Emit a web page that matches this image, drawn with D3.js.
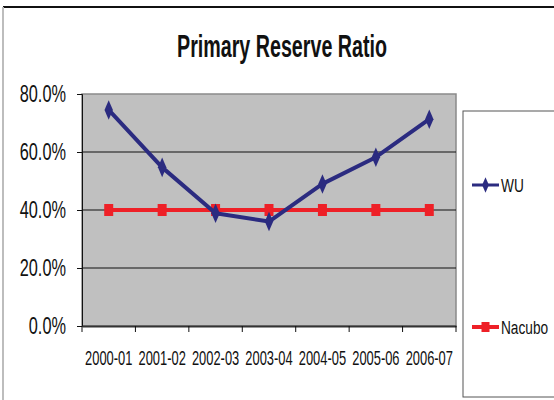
<!DOCTYPE html>
<html>
<head>
<meta charset="utf-8">
<script src="https://cdn.jsdelivr.net/npm/d3@7"></script>
<style>
  html, body { margin: 0; padding: 0; background: #fff; }
  svg { display: block; font-family: "Liberation Sans", Arial, sans-serif; }
</style>
</head>
<body>
<svg id="chart" width="554" height="400"></svg>
<script>
// data
const years = ["2000-01", "2001-02", "2002-03", "2003-04", "2004-05", "2005-06", "2006-07"];
const wuValues = [0.745, 0.547, 0.389, 0.36, 0.49, 0.582, 0.713];
const nacuboValues = [0.40, 0.40, 0.40, 0.40, 0.40, 0.40, 0.40];
const yTicks = [0, 0.2, 0.4, 0.6, 0.8];

// layout
const plot = {left: 82, right: 456, top: 94, bottom: 326};

const svg = d3.select('#chart');

// outer frame
svg.append('line')
    .attr('x1', 3).attr('x2', 554).attr('y1', 7).attr('y2', 7)
    .attr('stroke', '#111').attr('stroke-width', 2);
svg.append('line')
    .attr('x1', 3).attr('x2', 3).attr('y1', 7).attr('y2', 400)
    .attr('stroke', '#bdbdbd').attr('stroke-width', 2);

// the original text is horizontally compressed
function squeezedText(g, x, y, txt, size, anchor, sx, weight) {
    return g.append('text')
        .attr('transform', 'translate(' + x + ',' + y + ') scale(' + sx + ',1)')
        .attr('text-anchor', anchor)
        .attr('font-size', size)
        .attr('font-weight', weight || 'normal')
        .attr('fill', '#111')
        .text(txt);
}

// title
squeezedText(svg, 282, 57, 'Primary Reserve Ratio', 31, 'middle', 0.635, 'bold');

// scales
const x = d3.scaleBand()
    .domain(years)
    .range([plot.left, plot.right]);
const y = d3.scaleLinear()
    .domain([0, 0.8])
    .range([plot.bottom, plot.top]);

// plot background
svg.append('rect')
    .attr('x', plot.left).attr('y', plot.top)
    .attr('width', plot.right - plot.left).attr('height', plot.bottom - plot.top)
    .attr('fill', '#c0c0c0')
    .attr('stroke', '#8a8a8a').attr('stroke-width', 1.5);

// gridlines
svg.selectAll('.grid')
    .data(yTicks.filter(d => d > 0 && d < 0.8))
    .enter()
    .append('line')
    .attr('x1', plot.left).attr('x2', plot.right)
    .attr('y1', d => y(d)).attr('y2', d => y(d))
    .attr('stroke', '#111').attr('stroke-width', 1.2);

// y axis
const yAxis = svg.append('g')
    .attr('transform', 'translate(' + plot.left + ',0)')
    .call(d3.axisLeft(y).tickValues(yTicks).tickSize(5).tickFormat(''));
yAxis.select('.domain').attr('stroke', '#111');
yAxis.selectAll('.tick line').attr('stroke', '#111');
yTicks.forEach(function(t) {
    squeezedText(svg, 66, y(t) + 8, d3.format('.1%')(t), 23, 'end', 0.71);
});

// x axis
const xAxis = svg.append('g')
    .attr('transform', 'translate(0,' + plot.bottom + ')')
    .call(d3.axisBottom(x).tickSize(0).tickFormat(''));
xAxis.select('.domain').attr('stroke', '#333').attr('stroke-width', 2);
svg.selectAll('.xtick')
    .data(years.concat(['end']))
    .enter()
    .append('line')
    .attr('x1', (d, i) => plot.left + i * x.step())
    .attr('x2', (d, i) => plot.left + i * x.step())
    .attr('y1', plot.bottom).attr('y2', plot.bottom + 6)
    .attr('stroke', '#111');
years.forEach(function(yr) {
    squeezedText(svg, x(yr) + x.bandwidth() / 2, 365, yr, 20, 'middle', 0.645);
});

const cx = d => x(d.year) + x.bandwidth() / 2;
const line = d3.line().x(cx).y(d => y(d.v));

// Nacubo series
const nacubo = years.map((yr, i) => ({year: yr, v: nacuboValues[i]}));
svg.append('path')
    .datum(nacubo)
    .attr('d', line)
    .attr('fill', 'none')
    .attr('stroke', '#ee2027').attr('stroke-width', 4);
svg.selectAll('.nacubo-pt')
    .data(nacubo)
    .enter()
    .append('rect')
    .attr('x', d => cx(d) - 4.5).attr('y', d => y(d.v) - 6)
    .attr('width', 9).attr('height', 12)
    .attr('fill', '#ee2027');

// WU series
const wu = years.map((yr, i) => ({year: yr, v: wuValues[i]}));
svg.append('path')
    .datum(wu)
    .attr('d', line)
    .attr('fill', 'none')
    .attr('stroke', '#2b2b80').attr('stroke-width', 4)
    .attr('stroke-linejoin', 'round');
const diamond = d3.symbol().type(d3.symbolDiamond).size(110);
svg.selectAll('.wu-pt')
    .data(wu)
    .enter()
    .append('path')
    .attr('d', diamond)
    .attr('transform', d => 'translate(' + cx(d) + ',' + y(d.v) + ') scale(0.75,1)')
    .attr('fill', '#2b2b80');

// legend
const legend = svg.append('g');
legend.append('rect')
    .attr('x', 463).attr('y', 111)
    .attr('width', 100).attr('height', 286)
    .attr('fill', '#fff')
    .attr('stroke', '#555').attr('stroke-width', 1);

const legendItems = [
    {name: 'WU', color: '#2b2b80', y: 185, marker: 'diamond'},
    {name: 'Nacubo', color: '#ee2027', y: 327, marker: 'square'}
];
legendItems.forEach(function(item) {
    legend.append('line')
        .attr('x1', 472).attr('x2', 499)
        .attr('y1', item.y).attr('y2', item.y)
        .attr('stroke', item.color)
        .attr('stroke-width', item.marker === 'square' ? 4 : 3);
    if (item.marker === 'diamond') {
        legend.append('path')
            .attr('d', d3.symbol().type(d3.symbolDiamond).size(70))
            .attr('transform', 'translate(485.5,' + item.y + ') scale(0.75,1)')
            .attr('fill', item.color);
    } else {
        legend.append('rect')
            .attr('x', 481.5).attr('y', item.y - 5)
            .attr('width', 8).attr('height', 10)
            .attr('fill', item.color);
    }
    squeezedText(legend, 501, item.y + 7, item.name, 19, 'start', 0.72);
});
</script>
</body>
</html>
